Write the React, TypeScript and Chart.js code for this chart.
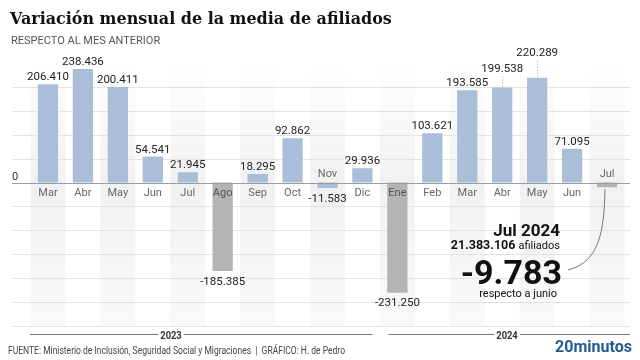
import { useEffect, useRef } from 'react';
import { Chart, registerables } from 'chart.js';

Chart.register(...registerables);

const months = ['Mar', 'Abr', 'May', 'Jun', 'Jul', 'Ago', 'Sep', 'Oct', 'Nov', 'Dic', 'Ene', 'Feb', 'Mar', 'Abr', 'May', 'Jun', 'Jul'];
const values = [206410, 238436, 200411, 54541, 21945, -185385, 18295, 92862, -11583, 29936, -231250, 103621, 193585, 199538, 220289, 71095, -9783];
const grayBars = [5, 10, 16];
const yearLabels = ['2023', '2024'];
const yearFirstIndex = [0, 10];
const yearLastIndex = [9, 16];
const gridValues = [-300000, -250000, -200000, -150000, -100000, -50000, 50000, 100000, 150000, 200000];
const titleText = 'Variación mensual de la media de afiliados';
const subtitleText = 'RESPECTO AL MES ANTERIOR';
const sourceText = 'FUENTE: Ministerio de Inclusión, Seguridad Social y Migraciones  |  GRÁFICO: H. de Pedro';
const highlightTitle = 'Jul 2024';
const highlightTotal = '21.383.106';
const highlightTotalUnit = 'afiliados';
const highlightNote = 'respecto a junio';

const BLUE = '#a9bed9';
const GRAY = '#b4b4b4';

function fmt(n: number): string {
  const s = Math.abs(n).toString().replace(/\B(?=(\d{3})+(?!\d))/g, '.');
  return n < 0 ? '-' + s : s;
}

const decoPlugin = {
  id: 'deco',
  beforeDatasetsDraw(chart: any) {
    const { ctx, chartArea, scales } = chart;
    const x = scales.x;
    const y = scales.y;
    const step = x.getPixelForValue(1) - x.getPixelForValue(0);
    ctx.save();
    const grad = ctx.createLinearGradient(0, chartArea.top, 0, chartArea.bottom);
    grad.addColorStop(0, 'rgba(0,0,0,0)');
    grad.addColorStop(0.45, 'rgba(0,0,0,0.055)');
    grad.addColorStop(1, 'rgba(0,0,0,0.025)');
    ctx.fillStyle = grad;
    for (let i = 0; i < months.length; i += 2) {
      const cx = x.getPixelForValue(i);
      ctx.fillRect(cx - step / 2, chartArea.top, step, chartArea.bottom - chartArea.top);
    }
    ctx.strokeStyle = '#e3e3e3';
    ctx.lineWidth = 1;
    for (const v of gridValues) {
      const py = Math.round(y.getPixelForValue(v)) + 0.5;
      ctx.beginPath();
      ctx.moveTo(12, py);
      ctx.lineTo(630, py);
      ctx.stroke();
    }
    ctx.restore();
  },
  afterDatasetsDraw(chart: any) {
    const { ctx, scales } = chart;
    const x = scales.x;
    const y = scales.y;
    const zero = y.getPixelForValue(0);
    ctx.save();
    // zero line
    ctx.strokeStyle = '#9c9c9c';
    ctx.lineWidth = 1;
    ctx.beginPath();
    ctx.moveTo(12, Math.round(zero) + 0.5);
    ctx.lineTo(630, Math.round(zero) + 0.5);
    ctx.stroke();
    ctx.font = '11px Roboto';
    ctx.fillStyle = '#333';
    ctx.textAlign = 'left';
    ctx.textBaseline = 'alphabetic';
    ctx.fillText('0', 12, zero - 2.5);

    const lift: Record<number, number> = { 13: 12, 14: 18 };
    values.forEach((v, i) => {
      const cx = x.getPixelForValue(i);
      const py = y.getPixelForValue(v);
      // month label
      ctx.font = '11px Roboto';
      ctx.fillStyle = grayBars.includes(i) && v < -50000 ? '#555' : '#666';
      ctx.textAlign = 'center';
      ctx.textBaseline = 'middle';
      const above = v < 0 && v > -50000;
      ctx.fillText(months[i], cx, above ? zero - 8 : zero + 11);
      // value labels
      if (i === months.length - 1) return;
      ctx.font = '11.5px Roboto';
      ctx.fillStyle = '#222';
      if (v >= 0) {
        const l = lift[i] || 0;
        ctx.textBaseline = 'alphabetic';
        ctx.fillText(fmt(v), cx, py - 4 - l);
        if (l) {
          ctx.save();
          ctx.strokeStyle = '#999';
          ctx.setLineDash([1, 2]);
          ctx.beginPath();
          ctx.moveTo(cx + 0.5, py - l + 1);
          ctx.lineTo(cx + 0.5, py - 1);
          ctx.stroke();
          ctx.restore();
        }
      } else {
        ctx.textBaseline = 'top';
        ctx.fillText(fmt(v), cx, py + 5);
      }
    });

    // highlight annotation
    const last = months.length - 1;
    const lx = x.getPixelForValue(last);
    const ly = y.getPixelForValue(values[last]);
    ctx.strokeStyle = '#777';
    ctx.lineWidth = 1;
    ctx.beginPath();
    ctx.moveTo(lx - 2, ly + 2);
    ctx.bezierCurveTo(lx - 3, 230, lx - 7, 262, 568, 270);
    ctx.stroke();

    ctx.fillStyle = '#111';
    ctx.textAlign = 'right';
    ctx.textBaseline = 'alphabetic';
    ctx.font = 'bold 17px Roboto';
    ctx.fillText(highlightTitle, 560, 236);
    ctx.font = '11px Roboto';
    const uw = ctx.measureText(highlightTotalUnit).width;
    ctx.fillText(highlightTotalUnit, 560, 248.5);
    ctx.font = 'bold 12.5px Roboto';
    ctx.fillText(highlightTotal, 560 - uw - 3, 248.5);
    ctx.font = 'bold 34px Roboto';
    ctx.fillText(fmt(values[last]), 562, 284);
    ctx.font = '11px Roboto';
    ctx.fillText(highlightNote, 557, 296.5);

    // year brackets
    const lineY = 334.5;
    const centers = [171, 507];
    yearLabels.forEach((lab, k) => {
      const x0 = x.getPixelForValue(yearFirstIndex[k]) - (k === 0 ? 18 : 9);
      const x1 = x.getPixelForValue(yearLastIndex[k]) + (k === 0 ? 10 : 23);
      ctx.font = 'bold 11px Roboto';
      const tw = ctx.measureText(lab).width * 0.85;
      const c = centers[k];
      ctx.strokeStyle = '#777';
      ctx.beginPath();
      ctx.moveTo(x0, lineY);
      ctx.lineTo(c - tw / 2 - 2, lineY);
      ctx.moveTo(c + tw / 2 + 2, lineY);
      ctx.lineTo(x1, lineY);
      ctx.stroke();
      ctx.save();
      ctx.translate(c, lineY + 4);
      ctx.scale(0.85, 1);
      ctx.fillStyle = '#333';
      ctx.textAlign = 'center';
      ctx.textBaseline = 'alphabetic';
      ctx.fillText(lab, 0, 0);
      ctx.restore();
    });

    // title
    ctx.textAlign = 'left';
    ctx.textBaseline = 'alphabetic';
    ctx.fillStyle = '#111';
    ctx.font = 'bold 17px "DejaVu Serif"';
    const tW = ctx.measureText(titleText).width;
    const tSize = 17 * 382 / tW;
    ctx.font = `bold ${tSize}px "DejaVu Serif"`;
    ctx.fillText(titleText, 10, 24);
    ctx.font = '11px Roboto';
    ctx.fillStyle = '#555';
    ctx.fillText(subtitleText, 11, 43.5);

    // footer
    ctx.font = '10px Roboto';
    const sW = ctx.measureText(sourceText).width;
    ctx.save();
    ctx.translate(8, 354);
    ctx.scale(337 / sW, 1);
    ctx.fillStyle = '#444';
    ctx.fillText(sourceText, 0, 0);
    ctx.restore();

    ctx.save();
    ctx.font = 'bold 17px Roboto';
    const lW = ctx.measureText('20minutos').width;
    ctx.translate(632, 352);
    ctx.scale(77 / lW, 1);
    ctx.fillStyle = '#245b95';
    ctx.textAlign = 'right';
    ctx.fillText('20minutos', 0, 0);
    ctx.restore();

    ctx.restore();
  },
};

export default function App() {
  const ref = useRef<HTMLCanvasElement | null>(null);
  useEffect(() => {
    document.body.style.margin = '0';
    const canvas = ref.current;
    if (!canvas) return;
    const chart = new Chart(canvas, {
      type: 'bar',
      data: {
        labels: months,
        datasets: [
          {
            data: values,
            backgroundColor: values.map((_, i) => (grayBars.includes(i) ? GRAY : BLUE)),
            barPercentage: 0.58,
            categoryPercentage: 1,
          },
        ],
      },
      options: {
        responsive: false,
        animation: false,
        devicePixelRatio: 1,
        layout: { padding: { left: 30.5, right: 15.5, top: 63.5, bottom: 34.5 } },
        scales: {
          x: { display: false },
          y: { display: false, min: -300000, max: 250000 },
        },
        plugins: { legend: { display: false }, tooltip: { enabled: false }, title: { display: false } },
      },
      plugins: [decoPlugin],
    });
    return () => chart.destroy();
  }, []);
  return (
    <div style={{ width: 640, height: 360, background: '#fff' }}>
      <canvas ref={ref} width={640} height={360} style={{ display: 'block', width: 640, height: 360 }} />
    </div>
  );
}
